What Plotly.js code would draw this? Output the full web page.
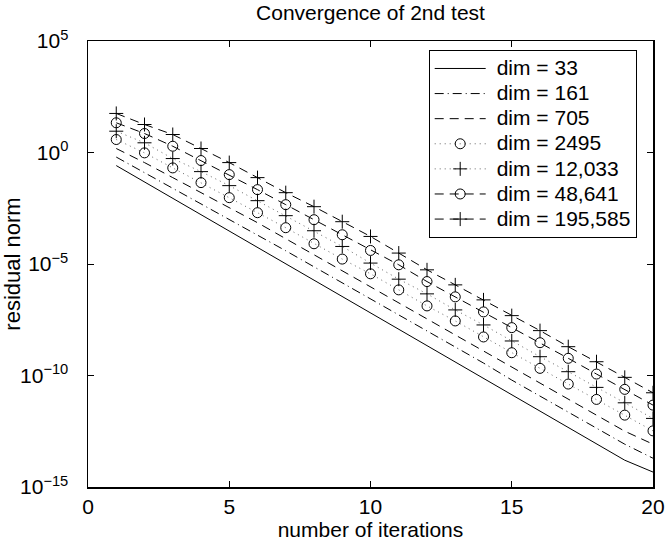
<!DOCTYPE html>
<html>
<head>
<meta charset="utf-8">
<script src="https://cdn.plot.ly/plotly-3.0.1.min.js"></script>
<style>html,body{margin:0;padding:0;background:#fff}#chart{width:665px;height:542px}</style>
</head>
<body>
<div id="chart"></div>
<script>
const iterations = [1,2,3,4,5,6,7,8,9,10,11,12,13,14,15,16,17,18,19,20];

const dim33 = [2.59e-1,4.78e-2,8.81e-3,1.63e-3,3.00e-4,5.53e-5,1.02e-5,1.88e-6,3.48e-7,6.41e-8,
               1.18e-8,2.18e-9,4.03e-10,7.43e-11,1.37e-11,2.53e-12,4.67e-13,8.61e-14,1.59e-14,4.68e-15];
const dim161 = [6.24e-1,1.26e-1,2.40e-2,5.08e-3,9.70e-4,2.05e-4,3.92e-5,7.48e-6,1.43e-6,2.73e-7,
                5.21e-8,9.95e-9,1.90e-9,3.62e-10,6.24e-11,1.19e-11,2.28e-12,4.35e-13,8.30e-14,1.95e-14];
const dim705 = [1.51,3.53e-1,7.48e-2,1.58e-2,3.36e-3,7.11e-4,1.36e-4,2.59e-5,4.94e-6,9.44e-7,
                1.80e-7,3.44e-8,6.58e-9,1.26e-9,2.40e-10,4.58e-11,8.75e-12,1.67e-12,3.18e-13,8.30e-14];
const dim2495 = [3.82,9.64e-1,2.04e-1,4.46e-2,9.44e-3,2.00e-3,4.24e-4,8.09e-5,1.66e-5,3.63e-6,
                 6.92e-7,1.32e-7,2.80e-8,5.35e-9,1.05e-9,2.09e-10,4.13e-11,8.47e-12,1.67e-12,3.29e-13];
const dim12033 = [9.02,2.72,5.35e-1,1.39e-1,3.27e-2,6.92e-3,1.47e-3,3.10e-4,6.12e-5,1.10e-5,
                  2.09e-6,4.58e-7,8.73e-8,1.85e-8,3.53e-9,6.97e-10,1.48e-10,2.93e-11,5.96e-12,1.19e-12];
const dim48641 = [21.5,7.11,1.91,4.35e-1,1.02e-1,2.16e-2,4.58e-3,9.70e-4,2.05e-4,4.05e-5,
                  9.20e-6,1.63e-6,3.36e-7,7.11e-8,1.40e-8,2.96e-9,5.90e-10,1.16e-10,2.39e-11,4.70e-12];
const dim195585 = [56.4,18.0,6.41,1.51,3.53e-1,7.48e-2,1.58e-2,3.72e-3,7.89e-4,1.72e-4,
                   3.09e-5,5.48e-6,1.16e-6,2.46e-7,4.84e-8,1.03e-8,1.96e-9,4.15e-10,8.26e-11,1.68e-11];

const seriesNames = ['dim = 33','dim = 161','dim = 705','dim = 2495','dim = 12,033','dim = 48,641','dim = 195,585'];
const xTicks = [0,5,10,15,20];
const yTickVals = [1e5,1,1e-5,1e-10,1e-15];
const yTickText = ['10<sup>5</sup>','10<sup>0</sup>','10<sup>−5</sup>','10<sup>−10</sup>','10<sup>−15</sup>'];

const seriesData = [dim33, dim161, dim705, dim2495, dim12033, dim48641, dim195585];
const styles = [
  {mode:'lines', dash:'solid', lc:'#000'},
  {mode:'lines', dash:'9px,4px,1px,4px', lc:'#000'},
  {mode:'lines', dash:'9px,6px', lc:'#000'},
  {mode:'lines+markers', dash:'1px,4px', lc:'#666', sym:'circle-open', sz:10},
  {mode:'lines+markers', dash:'1px,4px', lc:'#666', sym:'cross-thin-open', sz:10},
  {mode:'lines+markers', dash:'9px,6px', lc:'#000', sym:'circle-open', sz:10},
  {mode:'lines+markers', dash:'9px,6px', lc:'#000', sym:'cross-thin-open', sz:10}
];

const traces = seriesData.map((ys, i) => {
  const s = styles[i];
  const t = {
    x: iterations, y: ys, type:'scatter', mode:s.mode,
    name: '<span style="font-size:21px">' + seriesNames[i] + '</span>',
    line:{color:s.lc, width:1, dash:s.dash}
  };
  if (s.sym) t.marker = {symbol:s.sym, size:s.sz, color:'#000', line:{color:'#000', width:1}};
  return t;
});

const axisCommon = {
  ticks:'inside', ticklen:6, tickcolor:'#000', tickwidth:1,
  showline:true, linecolor:'#000', linewidth:1.5, mirror:'ticks',
  showgrid:false, zeroline:false,
  tickfont:{size:21, color:'#000'}
};

const layout = {
  width:665, height:542,
  margin:{l:88, r:12, t:41, b:55},
  paper_bgcolor:'#fff', plot_bgcolor:'#fff',
  font:{family:'"Liberation Sans", Arial, Helvetica, sans-serif', size:21, color:'#000'},
  title:{text:'Convergence of 2nd test', x:0.5, xref:'paper', xanchor:'center', y:0.977, yanchor:'middle', font:{size:21, color:'#000'}},
  xaxis: Object.assign({}, axisCommon, {
    range:[0,20], tickmode:'array', tickvals:xTicks, ticklabelstandoff:0,
    title:{text:'number of iterations', standoff:2, font:{size:21}}
  }),
  yaxis: Object.assign({}, axisCommon, {
    type:'log', range:[-15,5], tickmode:'array', tickvals:yTickVals, ticktext:yTickText,
    ticklabelstandoff:14,
    title:{text:'residual norm', standoff:0, font:{size:22}}
  }),
  showlegend:true,
  legend:{
    x:0.603, y:0.98, xanchor:'left', yanchor:'top',
    bgcolor:'#fff', bordercolor:'#000', borderwidth:1,
    font:{size:17, color:'#000'}, tracegroupgap:0, itemwidth:57
  }
};

Plotly.newPlot('chart', traces, layout, {displayModeBar:false, staticPlot:true}).then(gd => {
  // lengthen legend line samples like MATLAB's
  gd.querySelectorAll('.legend .traces').forEach(tr => {
    tr.querySelectorAll('.legendlines path').forEach(p => p.setAttribute('d', 'M5,0h51'));
    tr.querySelectorAll('.legendpoints path.scatterpts').forEach(p => p.setAttribute('transform', 'translate(30.5,0)'));
  });
});
</script>
</body>
</html>
